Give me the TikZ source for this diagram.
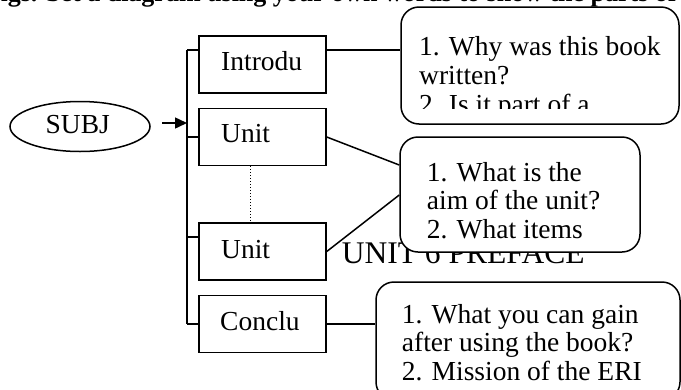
\documentclass[tikz,border=0pt]{standalone}
\usepackage{fontspec}
\setmainfont{Liberation Serif}
\usetikzlibrary{arrows.meta,shapes.geometric}
\begin{document}
\begin{tikzpicture}[x=1pt,y=-1pt,
  every node/.style={font=\fontsize{27.5}{28.7}\selectfont},
  partbox/.style={draw, line width=1.5pt, minimum width=127pt, minimum height=57pt, inner sep=0pt},
  callout/.style={draw, line width=1.5pt, rounded corners=18pt, fill=white, inner sep=0pt},
  txt/.style={anchor=base west, inner sep=0pt},
  link/.style={line width=1.5pt}]
\useasboundingbox (0,0) rectangle (681,389);
\clip (0,0) rectangle (681,389);

% heading line running off the top edge
\node[txt, font=\fontsize{26}{28}\selectfont\bfseries] (heading) at (-14,1.5)
  {ings. Set a diagram using your own words to show the parts of the book};

% subject ellipse
\node[draw, ellipse, line width=1.5pt, minimum width=140pt, minimum height=50pt, inner sep=0pt] (subj) at (80,126.5) {};
\node[txt] (subjtxt) at (45.5,133.3) {SUBJ};

% part boxes
\node[partbox] (intro)  at (262.5,64.5)  {};
\node[partbox] (unitA)  at (262.5,137)   {};
\node[partbox] (unitB)  at (262.5,251.5) {};
\node[partbox] (conclu) at (262.5,324)   {};
\node[txt] (introtxt)  at (221,70.7)  {Introdu};
\node[txt] (unitAtxt)  at (221,142.7) {Unit};
\node[txt] (unitBtxt)  at (221,258.3) {Unit};
\node[txt] (conclutxt) at (220,330)   {Conclu};

% trunk with stubs
\coordinate (ttop) at (187,50);
\coordinate (tbot) at (187,324);
\coordinate (sA) at (187,137);
\coordinate (sB) at (187,237);
\draw[link] (ttop) -- (tbot);
\draw[link] (ttop) -- (intro.west |- ttop);
\draw[link] (sA) -- (unitA.west |- sA);
\draw[link] (sB) -- (unitB.west |- sB);
\draw[link] (tbot) -- (conclu.west |- tbot);

% arrow into the trunk
\coordinate (astart) at (162,123);
\draw[link, -{Triangle[length=12pt,width=11pt]}] (astart) -- (ttop |- astart);

% dotted gap between units
\draw[line width=1pt, dotted] (unitA.south -| 250,0) -- (unitB.north -| 250,0);

% big title partly hidden behind the middle callout
\node[txt, font=\fontsize{31.5}{33}\selectfont] (title) at (341.7,263) {UNIT 6 PREFACE};

% callouts
\node[callout, minimum width=278pt, minimum height=117pt] (c1) at (540,65.5) {};
\node[callout, minimum width=240pt, minimum height=115pt] (c2) at (520,194.5) {};
\node[callout, minimum width=304pt, minimum height=118pt] (c3) at (528,341) {};

\begin{scope}
  \clip (401,7) rectangle (679,108);
  \node[txt] (c1a) at (419,55)  {1. Why was this book};
  \node[txt] (c1b) at (419,84)  {written?};
  \node[txt] (c1c) at (419,113) {2. Is it part of a};
\end{scope}
\node[txt] (c2a) at (426.7,181.5) {1. What is the};
\node[txt] (c2b) at (426.7,209.5) {aim of the unit?};
\node[txt] (c2c) at (426.7,238)   {2. What items};
\node[txt] (c3a) at (401.7,323.3) {1. What you can gain};
\node[txt] (c3b) at (401.7,351.7) {after using the book?};
\node[txt] (c3c) at (401.7,380)   {2. Mission of the ERI};

% connectors to callouts
\coordinate (yI) at (0,50);
\draw[link] (intro.east |- yI) -- (c1.west |- yI);
\coordinate (yA) at (0,165);
\coordinate (yB) at (0,195);
\draw[link] (unitA.east) -- (c2.west |- yA);
\draw[link] (unitB.east) -- (c2.west |- yB);
\draw[link] (conclu.east) -- (c3.west |- conclu.east);
\end{tikzpicture}
\end{document}
